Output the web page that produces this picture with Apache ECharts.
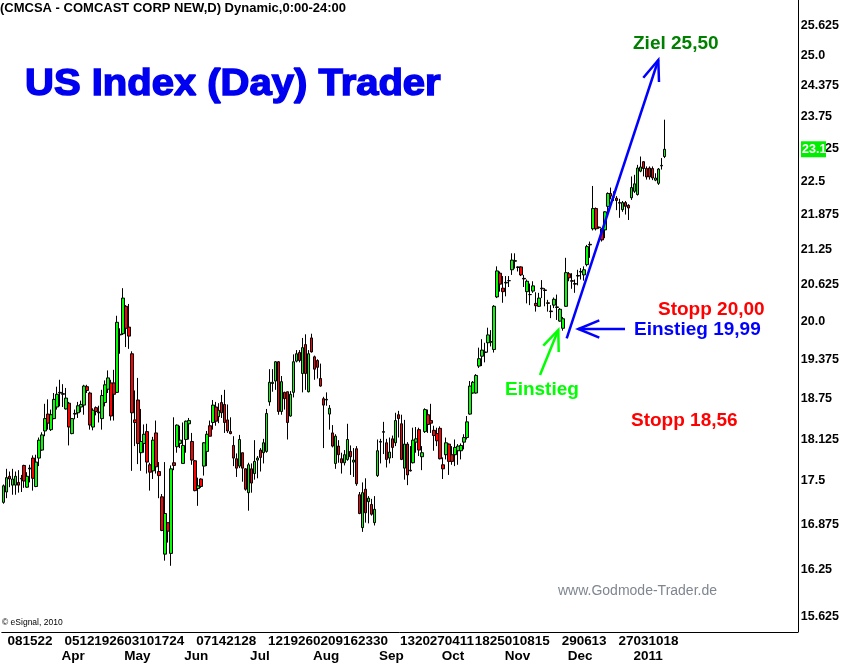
<!DOCTYPE html>
<html><head><meta charset="utf-8">
<script src="https://cdn.jsdelivr.net/npm/echarts@6/dist/echarts.min.js"></script>
<style>html,body{margin:0;padding:0;background:#fff}#c{width:842px;height:663px}</style>
</head><body><div id="c"></div>
<script>
// ---- time axis ----
const startDate = '2010-03-04', endDate = '2011-01-18';
const holidays = ['2010-04-02','2010-05-31','2010-07-05','2010-09-06','2010-11-25','2010-12-24','2011-01-17'];
const emptySlots = 44;
const weekLabelDates = ['2010-03-08','2010-03-15','2010-03-22',
  '2010-04-05','2010-04-12','2010-04-19','2010-04-26',
  '2010-05-03','2010-05-10','2010-05-17','2010-05-24',
  '2010-06-07','2010-06-14','2010-06-21','2010-06-28',
  '2010-07-12','2010-07-19','2010-07-26',
  '2010-08-02','2010-08-09','2010-08-16','2010-08-23','2010-08-30',
  '2010-09-13','2010-09-20','2010-09-27',
  '2010-10-04','2010-10-11','2010-10-18','2010-10-25',
  '2010-11-01','2010-11-08','2010-11-15','2010-11-29',
  '2010-12-06','2010-12-13','2010-12-27',
  '2011-01-03','2011-01-10','2011-01-18'];
const monthLabelDates = ['2010-04-01','2010-05-03','2010-06-01','2010-07-01','2010-08-02','2010-09-01','2010-10-01','2010-11-01','2010-12-01','2011-01-03'];
const monthLabelNames = ['Apr','May','Jun','Jul','Aug','Sep','Oct','Nov','Dec','2011'];

// ---- price axis (log scaled) ----
const yTickValues = [25.625,25.0,24.375,23.75,23.125,22.5,21.875,21.25,20.625,20.0,19.375,18.75,18.125,17.5,16.875,16.25,15.625];
const yTickLabels = ['25.625','25.0','24.375','23.75','23.125','22.5','21.875','21.25','20.625','20.0','19.375','18.75','18.125','17.5','16.875','16.25','15.625'];
const yMin = 15.42, yMax = 26.19;

// ---- OHLC ----
const opens = [
17.19,17.34,17.57,17.44,17.44,17.48,17.53,17.73,17.41,17.68,
17.84,17.42,17.84,17.96,18.25,18.51,18.27,18.44,18.62,18.84,
18.83,18.59,18.68,18.21,18.52,18.53,18.62,18.65,18.94,18.84,
18.31,18.61,18.54,18.44,18.69,18.90,19.00,19.00,18.85,19.79,
19.80,20.26,19.91,19.47,18.42,18.73,17.92,18.06,18.24,17.74,
17.65,18.22,17.64,17.27,16.46,16.90,16.47,17.77,18.01,18.06,
17.76,18.12,18.36,18.09,17.80,17.39,17.53,17.72,17.94,18.33,
18.38,18.62,18.47,18.69,18.66,18.42,18.24,18.03,17.83,17.72,
17.92,17.68,17.33,17.68,17.61,17.81,17.96,17.92,17.94,18.70,
18.99,19.03,19.34,18.55,18.85,18.86,18.48,18.85,19.35,19.49,
19.15,19.62,18.86,19.73,19.42,19.36,19.07,18.75,18.74,18.51,
18.22,17.76,18.02,17.83,17.77,17.82,17.94,17.78,17.98,17.30,
16.83,17.38,17.20,17.16,16.90,17.58,18.08,18.23,18.07,17.84,
18.13,18.07,18.50,18.36,17.69,18.05,17.66,17.77,18.08,18.27,
17.86,18.24,18.50,18.41,18.26,18.21,18.29,17.74,17.89,18.05,
17.89,17.89,17.95,17.95,18.08,18.15,18.51,18.84,18.84,19.27,
19.43,19.50,19.65,19.66,19.54,20.42,20.83,20.57,20.66,20.70,
20.89,21.04,20.93,20.94,20.74,20.51,20.46,20.52,20.31,20.26,
20.56,20.54,20.32,20.17,20.28,20.24,20.01,19.89,20.26,20.82,
20.70,20.65,20.79,20.85,20.80,20.98,21.33,21.62,21.99,21.65,
21.62,21.60,22.03,22.27,22.20,22.18,22.10,21.97,22.10,22.05,
22.19,22.31,22.25,22.69,22.87,22.74,22.75,22.74,22.52,22.46,
22.79,22.97];
const closes = [
17.43,17.55,17.53,17.53,17.57,17.44,17.54,17.50,17.57,17.69,
17.54,17.78,18.11,18.19,18.44,18.37,18.50,18.74,18.82,18.85,
18.82,18.76,18.31,18.44,18.51,18.64,18.66,18.95,18.88,18.34,
18.57,18.55,18.53,18.80,18.97,19.08,18.48,18.82,19.99,19.78,
20.40,19.89,19.76,18.53,18.38,18.06,18.09,18.20,17.78,17.63,
18.11,17.71,17.58,16.79,17.03,16.78,17.68,17.73,18.34,18.11,
18.03,18.40,18.41,17.81,17.36,17.43,17.42,18.07,18.20,18.17,
18.65,18.40,18.57,18.53,18.38,18.25,18.21,17.84,17.69,18.12,
17.69,17.38,17.74,17.47,17.79,17.84,17.85,18.07,18.52,19.01,
19.01,19.34,18.55,19.02,18.75,18.38,18.82,19.34,19.47,19.36,
19.57,19.15,19.47,19.50,19.22,19.25,18.95,18.65,18.73,18.60,
18.02,18.17,17.89,17.77,17.89,18.12,17.86,17.81,17.46,17.03,
17.33,17.04,17.25,17.02,17.09,17.95,18.09,18.24,17.82,17.93,
18.00,18.41,18.44,17.82,18.05,17.59,17.65,18.11,18.13,17.96,
17.92,18.58,18.35,18.37,18.18,18.10,17.83,17.68,18.07,17.79,
17.79,18.00,18.02,18.03,18.15,18.39,18.95,19.01,19.12,19.39,
19.53,19.49,19.78,19.67,20.26,20.87,20.64,20.51,20.67,20.70,
21.06,21.05,20.94,20.80,20.73,20.69,20.46,20.61,20.27,20.40,
20.57,20.53,20.31,20.18,20.38,20.25,20.21,20.05,20.84,20.75,
20.69,20.64,20.78,20.86,20.89,21.30,21.34,21.99,21.62,21.64,
21.42,21.93,22.27,22.22,22.20,22.14,22.09,22.10,22.03,22.00,
22.38,22.45,22.75,22.77,22.74,22.58,22.58,22.56,22.56,22.73,
22.80,23.11];
const lows = [
17.17,17.25,17.41,17.30,17.30,17.33,17.34,17.40,17.40,17.48,
17.36,17.41,17.72,17.95,18.17,18.27,18.25,18.43,18.58,18.63,
18.62,18.58,18.03,18.20,18.43,18.45,18.54,18.50,18.84,18.27,
18.26,18.49,18.38,18.27,18.63,18.84,18.41,18.41,18.84,19.47,
19.78,19.58,19.55,17.65,18.02,17.75,17.65,17.92,17.61,17.36,
17.53,17.61,17.25,16.78,16.37,16.62,16.30,17.66,17.92,17.99,
17.76,17.92,18.12,17.74,17.35,17.14,17.40,17.58,17.72,18.17,
18.27,18.33,18.37,18.45,18.22,18.22,18.20,17.72,17.56,17.69,
17.49,17.36,17.07,17.33,17.52,17.54,17.64,17.76,17.92,18.64,
18.86,18.89,18.50,18.50,18.58,18.12,18.47,18.77,19.33,19.33,
18.85,18.89,18.85,19.49,19.05,19.07,18.94,17.99,18.64,18.27,
18.00,17.68,17.77,17.61,17.73,17.80,17.59,17.56,17.43,17.02,
16.77,16.90,16.89,17.00,16.86,17.56,17.76,17.90,17.70,17.76,
17.84,18.02,18.15,17.81,17.52,17.44,17.64,17.76,17.92,17.87,
17.66,18.22,18.22,18.22,17.95,18.02,17.82,17.53,17.82,17.59,
17.74,17.72,17.74,17.82,17.97,18.12,18.50,18.83,18.83,19.24,
19.27,19.33,19.49,19.59,19.49,20.40,20.51,20.32,20.43,20.59,
20.80,20.91,20.86,20.78,20.59,20.31,20.28,20.49,20.17,20.25,
20.40,20.26,20.17,20.06,20.23,20.03,20.00,19.85,20.25,20.69,
20.56,20.49,20.62,20.72,20.70,20.95,21.10,21.59,21.59,21.62,
21.39,21.45,21.88,22.16,22.13,21.96,21.82,21.93,21.88,21.78,
22.15,22.28,22.23,22.67,22.59,22.53,22.53,22.52,22.50,22.43,
22.72,22.94];
const highs = [
17.45,17.68,17.64,17.68,17.64,17.66,17.59,17.74,17.63,17.74,
17.88,17.89,18.15,18.23,18.67,18.74,18.58,18.84,18.94,19.05,
18.98,18.92,18.70,18.45,18.58,18.70,18.72,18.97,18.97,18.86,
18.60,18.63,18.64,18.89,19.04,19.20,19.05,19.21,20.10,19.89,
20.57,20.28,20.30,19.51,18.88,19.08,18.59,18.35,18.36,17.77,
18.16,18.41,17.78,17.31,17.78,16.90,17.73,18.46,18.35,18.33,
18.38,18.41,18.45,18.22,17.81,17.55,17.54,18.08,18.25,18.41,
18.73,18.70,18.68,18.81,18.89,18.66,18.46,18.17,17.91,18.19,
17.92,17.69,17.77,17.76,18.11,17.87,17.99,18.13,18.59,19.22,
19.22,19.35,19.35,19.11,18.86,18.86,18.87,19.46,19.53,19.53,
19.73,19.79,19.53,19.80,19.44,19.38,19.31,18.78,18.85,18.65,
18.34,18.20,18.11,17.92,17.96,18.36,18.03,17.99,18.02,17.34,
17.48,17.54,17.28,17.24,17.28,18.12,18.13,18.39,18.13,18.15,
18.18,18.53,18.56,18.50,18.42,18.08,18.02,18.30,18.31,18.30,
18.02,18.60,18.58,18.67,18.33,18.30,18.32,17.85,18.15,18.06,
18.02,18.12,18.05,18.06,18.20,18.48,19.03,19.03,19.14,19.57,
19.71,19.65,19.90,19.86,20.28,20.95,20.86,20.78,20.78,20.78,
21.18,21.18,20.95,20.95,20.80,20.72,20.65,20.69,20.50,20.49,
20.71,20.57,20.37,20.28,20.41,20.46,20.23,20.08,21.10,20.85,
20.83,20.72,20.89,20.92,20.95,21.33,21.39,22.41,22.01,21.66,
21.63,21.94,22.29,22.38,22.31,22.22,22.17,22.13,22.13,22.07,
22.59,22.62,22.81,22.97,22.88,22.78,22.78,22.78,22.65,22.75,
22.94,23.69];

// ---- build ----
function fmt(d){ return d.toISOString().slice(0,10); }
const dates = [];
for (let d = new Date(startDate + 'T00:00:00Z'); fmt(d) <= endDate; d.setUTCDate(d.getUTCDate()+1)) {
  const wd = d.getUTCDay(), s = fmt(d);
  if (wd === 0 || wd === 6 || holidays.indexOf(s) >= 0) continue;
  dates.push(s);
}
const cats = dates.slice();
for (let i = 0; i < emptySlots; i++) cats.push('x' + i);
const weekSet = new Set(weekLabelDates);
const monthMap = {};
monthLabelDates.forEach((d,i) => monthMap[d] = monthLabelNames[i]);
const n = Math.min(dates.length, opens.length);
const candleData = [];
for (let i = 0; i < n; i++) candleData.push([Math.log(opens[i]), Math.log(closes[i]), Math.log(lows[i]), Math.log(highs[i])]);

const FONT = '"Liberation Sans", Arial, sans-serif';
const chart = echarts.init(document.getElementById('c'), null, {renderer:'canvas', devicePixelRatio:1});
const txt = (x, y, s, size, color, weight, extra, styleExtra) => Object.assign({
  type:'text', x:x, y:y, z:100,
  style:Object.assign({text:s, fontSize:size, fontWeight:weight||'bold', fontFamily:FONT, fill:color, align:'left', verticalAlign:'middle'}, styleExtra||{})
}, extra||{});
const pl = (pts, color, w) => ({type:'polyline', z:100, shape:{points:pts}, style:{stroke:color, lineWidth:w, fill:null}});

chart.setOption({
  animation:false,
  backgroundColor:'#fff',
  grid:[
    {left:1.8, right:42.2, top:0, bottom:31},
    {left:-1.2, right:45.2, top:0, bottom:31}
  ],
  xAxis:[
    {gridIndex:0, type:'category', data:cats, boundaryGap:true,
     axisLine:{show:true, lineStyle:{color:'#000', width:1}}, axisTick:{show:false}, axisLabel:{show:false}, splitLine:{show:false}},
    {gridIndex:1, type:'category', data:cats, boundaryGap:true, position:'bottom',
     axisLine:{show:false}, axisTick:{show:false}, splitLine:{show:false},
     axisLabel:{show:true, interval:(i, v) => weekSet.has(v), formatter:v => v.slice(8,10),
       align:'left', margin:4, fontSize:13.5, fontWeight:'bold', fontFamily:FONT, color:'#000'}},
    {gridIndex:1, type:'category', data:cats, boundaryGap:true, position:'bottom',
     axisLine:{show:false}, axisTick:{show:false}, splitLine:{show:false},
     axisLabel:{show:true, interval:(i, v) => monthMap[v] !== undefined, formatter:v => monthMap[v] || '',
       align:'left', margin:19, fontSize:13.5, fontWeight:'bold', fontFamily:FONT, color:'#000'}}
  ],
  yAxis:[
    {gridIndex:0, type:'value', position:'right', min:Math.log(yMin), max:Math.log(yMax),
     axisLine:{show:true, lineStyle:{color:'#000', width:1}}, axisTick:{show:false}, splitLine:{show:false},
     axisLabel:{show:true, customValues:yTickValues.map(v => Math.log(v)),
       formatter:(v) => { let bi=0, bd=1e9; yTickValues.forEach((t,i)=>{const d=Math.abs(Math.log(t)-v); if(d<bd){bd=d;bi=i;}}); return yTickLabels[bi]; },
       margin:3, fontSize:12.5, fontWeight:'bold', fontFamily:FONT, color:'#000'}},
    {gridIndex:1, type:'value', show:false}
  ],
  series:[{
    type:'candlestick', xAxisIndex:0, yAxisIndex:0, data:candleData, barWidth:3,
    itemStyle:{color:'#00ff00', color0:'#ff0000', borderColor:'#000', borderColor0:'#000', borderColorDoji:'#000', borderWidth:1}
  }],
  graphic:[
    txt(0, 8, '(CMCSA - COMCAST CORP NEW,D) Dynamic,0:00-24:00', 13, '#000'),
    txt(25, 78, 'US Index (Day) Trader', 40, '#0000f0', 'bold', {scaleY:0.91, originX:25, originY:78}, {stroke:'#0000f0', lineWidth:1.6}),
    txt(633, 44, 'Ziel 25,50', 19, '#008000'),
    txt(658, 310, 'Stopp 20,00', 19, '#ff0000'),
    txt(634, 330, 'Einstieg 19,99', 19, '#0000ff'),
    txt(505, 389.5, 'Einstieg', 19, '#00ff00'),
    txt(631, 420.5, 'Stopp 18,56', 19, '#ff0000'),
    txt(558, 591, 'www.Godmode-Trader.de', 14, '#7f8690', 'normal'),
    txt(2, 623, '\u00a9 eSignal, 2010', 8.5, '#000', 'normal'),
    pl([[566.7,338.3],[658.3,60]], '#0000ff', 2.5),
    pl([[643.3,77.7],[658.3,60],[659,82]], '#0000ff', 2.5),
    pl([[625,329],[578.3,329]], '#0000ff', 2.5),
    pl([[599.3,320.3],[578.3,329],[599.3,337.7]], '#0000ff', 2.5),
    pl([[540,375],[558.3,330]], '#00ff00', 2.5),
    pl([[543.3,345.7],[558.3,330],[558.7,352]], '#00ff00', 2.5)
  ]
});

// last price marker on the price axis
const lastClose = closes[n-1];
const ly = chart.convertToPixel({yAxisIndex:0}, Math.log(lastClose));
chart.setOption({graphic:[
  {type:'rect', id:'lpbox', z:110, shape:{x:801, y:ly-8, width:25, height:16}, style:{fill:'#00ee00'}},
  {type:'text', id:'lptxt', z:111, x:802, y:ly, style:{text:lastClose.toFixed(1), fontSize:12.5, fontWeight:'bold', fontFamily:FONT, fill:'#fff', align:'left', verticalAlign:'middle'}}
]});
</script>
</body></html>
